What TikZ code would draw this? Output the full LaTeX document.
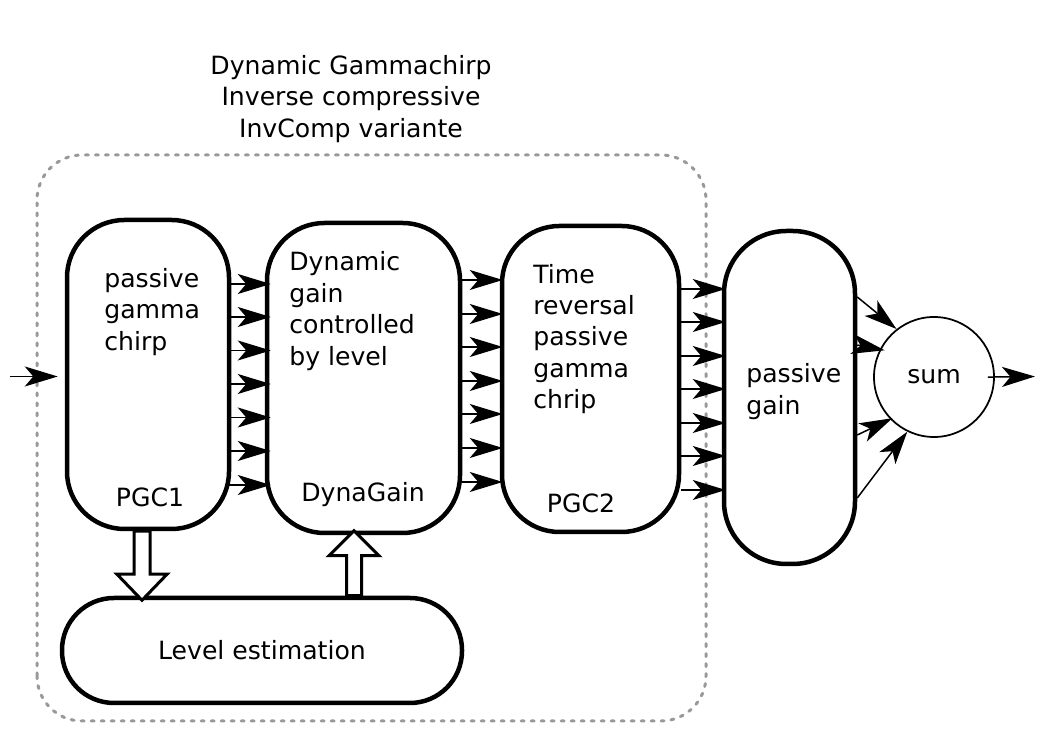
\documentclass[tikz,border=0pt]{standalone}
\usepackage{fontspec}
\setmainfont{DejaVu Sans}
\usetikzlibrary{positioning,calc,arrows.meta}

\tikzset{
  block/.style={draw, line width=0.09cm, rounded corners=1.15cm, inner sep=0pt},
  flow/.style={-{Stealth[length=0.66cm,width=0.4cm,inset=0.17cm]}, line width=0.03cm},
  hollow/.style={draw, line width=0.06cm, fill=white, line join=miter},
  txt/.style={align=left, anchor=west, inner sep=0pt},
}

\begin{document}
\begin{tikzpicture}[font=\fontsize{14.3}{17.9}\selectfont]
    \useasboundingbox (0,0) rectangle (21.06,14.9);

    % dashed frame of the gammachirp part
    \draw[black!40, line width=0.06cm, dash pattern=on 0.06cm off 0.14cm, line cap=round, rounded corners=0.9cm] (0.74,0.48) rectangle (14.12,11.8);
    \node[align=center] (title) at (7.02,12.92) {Dynamic Gammachirp\\Inverse compressive\\InvComp variante};

    \node[block, minimum width=3.24cm, minimum height=6.18cm] (pgcone) at (2.96,7.41) {};
    \node[block, minimum width=3.86cm, minimum height=6.2cm] (dynagain) at (7.27,7.34) {};
    \node[block, minimum width=3.54cm, minimum height=6.12cm] (pgctwo) at (11.81,7.32) {};
    \node[block, rounded corners=1.25cm, minimum width=2.62cm, minimum height=6.66cm] (passgain) at (15.79,6.95) {};
    \node[draw, circle, line width=0.035cm, minimum size=2.4cm, inner sep=0pt] (sumnode) at (18.68,7.36) {sum};
    \node[block, rounded corners=1.04cm, minimum width=8cm, minimum height=2.1cm] (levelest) at (5.24,1.89) {Level estimation};

    \node[txt] (pgconetext) at (2.08,8.66) {passive\\gamma\\chirp};
    \node (pgconelabel) at (3.0,4.96) {PGC1};
    \node[txt] (dynatext) at (5.78,8.68) {Dynamic\\gain\\controlled\\by level};
    \node (dynalabel) at (7.26,5.0) {DynaGain};
    \node[txt] (pgctwotext) at (10.66,8.12) {Time\\reversal\\passive\\gamma\\chrip};
    \node (pgctwolabel) at (11.62,4.84) {PGC2};
    \node[txt] (passgaintext) at (14.92,7.07) {passive\\gain};

    \coordinate (input) at (0.2,7.37);
    \coordinate (output) at (20.7,7.37);

    % channels
    \draw[flow, shorten >=0.14cm] (input) -- (pgcone.west |- input);
    \foreach \y in {9.22,8.56,7.89,7.22,6.55,5.88,5.20}
        \draw[flow, shorten <=-0.08cm, shorten >=-0.12cm] (pgcone.east |- 0,\y) -- (dynagain.west |- 0,\y);
    \foreach \y in {9.30,8.62,7.96,7.28,6.62,5.94,5.26}
        \draw[flow, shorten <=-0.06cm, shorten >=-0.06cm] (dynagain.east |- 0,\y) -- (pgctwo.west |- 0,\y);
    \foreach \y in {9.12,8.46,7.78,7.12,6.44,5.78,5.10}
        \draw[flow, shorten >=-0.08cm] (pgctwo.east |- 0,\y) -- (passgain.west |- 0,\y);

    \draw[flow] (passgain.east |- 0,8.96) -- (sumnode.128);
    \draw[flow, shorten >=-0.1cm] (passgain.east |- 0,8.0) -- (sumnode.153);
    \draw[flow, shorten >=-0.05cm] (passgain.east |- 0,6.2) -- (sumnode.224);
    \draw[flow] (passgain.east |- 0,4.94) -- (sumnode.244);
    \draw[flow, shorten <=-0.14cm] (sumnode.east) -- (output);

    % level estimation loop
    \draw[hollow] ($(pgcone.south)+(-0.28,0)$) -- ++(0,-0.86) -- ++(-0.34,0) -- ++(0.5,-0.52) -- ++(0.5,0.52) -- ++(-0.34,0) -- ++(0,0.86) -- cycle;
    \draw[hollow] ($(levelest.north)+(1.69,0)$) -- ++(0,0.8) -- ++(-0.35,0) -- ++(0.5,0.5) -- ++(0.5,-0.5) -- ++(-0.35,0) -- ++(0,-0.8) -- cycle;
\end{tikzpicture}
\end{document}
